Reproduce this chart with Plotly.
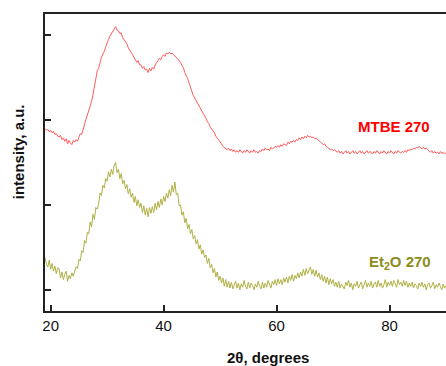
import plotly.graph_objects as go

# Sampling grid of the diffractogram (2-theta, degrees)
two_theta_start = 19.0
two_theta_step = 0.25

mtbe_270 = [
    2.90, 2.88, 2.89, 2.86, 2.88, 2.85, 2.87, 2.83, 2.84, 2.81, 2.80, 2.82, 2.77, 2.79, 2.75, 2.78,
    2.72, 2.76, 2.73, 2.71, 2.76, 2.74, 2.77, 2.75, 2.80, 2.84, 2.83, 2.90, 2.97, 3.01, 3.06, 3.11,
    3.18, 3.22, 3.30, 3.41, 3.52, 3.58, 3.61, 3.69, 3.74, 3.78, 3.81, 3.86, 3.92, 3.95, 3.99, 4.02,
    4.04, 4.07, 4.10, 4.06, 4.05, 4.02, 4.03, 3.97, 3.95, 3.92, 3.90, 3.85, 3.83, 3.80, 3.77, 3.74,
    3.72, 3.68, 3.70, 3.65, 3.65, 3.61, 3.63, 3.59, 3.60, 3.56, 3.61, 3.58, 3.62, 3.60, 3.65, 3.67,
    3.70, 3.73, 3.71, 3.75, 3.77, 3.75, 3.79, 3.78, 3.80, 3.78, 3.79, 3.77, 3.76, 3.74, 3.72, 3.70,
    3.68, 3.64, 3.62, 3.56, 3.53, 3.49, 3.44, 3.38, 3.34, 3.29, 3.26, 3.23, 3.21, 3.17, 3.14, 3.11,
    3.09, 3.05, 3.02, 2.98, 2.96, 2.92, 2.90, 2.87, 2.85, 2.81, 2.79, 2.76, 2.74, 2.72, 2.69, 2.68,
    2.67, 2.65, 2.67, 2.64, 2.66, 2.63, 2.65, 2.62, 2.64, 2.62, 2.65, 2.63, 2.61, 2.64, 2.62, 2.65,
    2.63, 2.61, 2.64, 2.62, 2.65, 2.62, 2.63, 2.61, 2.64, 2.63, 2.66, 2.64, 2.67, 2.65, 2.66, 2.64,
    2.68, 2.66, 2.67, 2.69, 2.68, 2.70, 2.68, 2.71, 2.69, 2.72, 2.71, 2.70, 2.74, 2.72, 2.75, 2.74,
    2.76, 2.74, 2.77, 2.76, 2.79, 2.77, 2.80, 2.78, 2.81, 2.79, 2.82, 2.80, 2.81, 2.79, 2.80, 2.78,
    2.79, 2.77, 2.76, 2.74, 2.73, 2.71, 2.72, 2.69, 2.68, 2.67, 2.65, 2.66, 2.64, 2.65, 2.63, 2.62,
    2.64, 2.61, 2.63, 2.60, 2.62, 2.64, 2.61, 2.63, 2.60, 2.62, 2.64, 2.61, 2.63, 2.60, 2.62, 2.64,
    2.61, 2.63, 2.60, 2.62, 2.64, 2.61, 2.63, 2.62, 2.60, 2.63, 2.61, 2.64, 2.62, 2.60, 2.63, 2.61,
    2.64, 2.62, 2.60, 2.63, 2.61, 2.64, 2.62, 2.60, 2.63, 2.61, 2.64, 2.62, 2.61, 2.63, 2.62, 2.64,
    2.62, 2.65, 2.64, 2.66, 2.65, 2.67, 2.66, 2.68, 2.67, 2.69, 2.68, 2.66, 2.68, 2.66, 2.67, 2.65,
    2.64, 2.62, 2.64, 2.61, 2.63, 2.61, 2.62, 2.60, 2.63, 2.61, 2.62, 2.60, 2.62,
]

et2o_270 = [
    1.38, 1.30, 1.27, 1.35, 1.24, 1.31, 1.22, 1.28, 1.19, 1.26, 1.25, 1.14, 1.21, 1.12, 1.18, 1.22,
    1.10, 1.17, 1.13, 1.20, 1.16, 1.23, 1.27, 1.25, 1.36, 1.34, 1.46, 1.44, 1.58, 1.55, 1.68, 1.66,
    1.80, 1.74, 1.89, 1.83, 1.97, 1.95, 2.01, 2.14, 2.11, 2.23, 2.20, 2.31, 2.28, 2.39, 2.33, 2.42,
    2.36, 2.47, 2.50, 2.38, 2.42, 2.31, 2.37, 2.25, 2.29, 2.19, 2.24, 2.13, 2.19, 2.09, 2.14, 2.03,
    2.10, 1.99, 2.06, 1.97, 2.02, 1.91, 1.99, 1.88, 1.96, 1.86, 1.97, 1.90, 1.98, 1.91, 2.02, 1.94,
    2.04, 1.97, 2.07, 2.00, 2.10, 2.04, 2.14, 2.08, 2.18, 2.11, 2.23, 2.15, 2.27, 2.12, 2.14, 1.99,
    2.00, 1.88, 1.92, 1.79, 1.84, 1.72, 1.77, 1.66, 1.71, 1.60, 1.64, 1.54, 1.59, 1.48, 1.53, 1.42,
    1.47, 1.38, 1.41, 1.31, 1.37, 1.26, 1.30, 1.20, 1.25, 1.15, 1.21, 1.11, 1.16, 1.08, 1.14, 1.04,
    1.12, 1.03, 1.10, 1.02, 1.09, 1.01, 1.05, 1.10, 1.02, 1.08, 1.00, 1.07, 1.03, 1.11, 1.04, 1.01,
    1.09, 1.02, 1.08, 1.05, 1.00, 1.07, 1.03, 1.10, 1.04, 1.01, 1.09, 1.02, 1.08, 1.03, 1.11, 1.05,
    1.02, 1.10, 1.06, 1.12, 1.05, 1.13, 1.07, 1.12, 1.06, 1.14, 1.09, 1.15, 1.08, 1.16, 1.11, 1.18,
    1.10, 1.17, 1.13, 1.20, 1.14, 1.21, 1.16, 1.24, 1.17, 1.25, 1.19, 1.23, 1.27, 1.18, 1.24, 1.16,
    1.23, 1.15, 1.20, 1.12, 1.18, 1.10, 1.16, 1.08, 1.15, 1.06, 1.13, 1.07, 1.12, 1.04, 1.09, 1.03,
    1.10, 1.02, 1.07, 1.04, 1.01, 1.09, 1.05, 1.11, 1.03, 1.08, 1.00, 1.07, 1.04, 1.10, 1.02, 1.06,
    1.09, 1.01, 1.05, 1.11, 1.03, 1.08, 1.04, 1.10, 1.02, 1.07, 1.09, 1.03, 1.11, 1.04, 1.08, 1.02,
    1.06, 1.12, 1.03, 1.09, 1.05, 1.10, 1.04, 1.11, 1.07, 1.03, 1.12, 1.06, 1.09, 1.04, 1.11, 1.05,
    1.10, 1.03, 1.08, 1.04, 1.09, 1.02, 1.07, 1.05, 1.01, 1.08, 1.04, 1.09, 1.03, 1.07, 1.00, 1.06,
    1.08, 1.02, 1.05, 1.09, 1.01, 1.06, 1.03, 1.08, 1.04, 1.00, 1.07, 1.02, 1.05,
]

two_theta = [two_theta_start + two_theta_step * i for i in range(len(mtbe_270))]

x_ticks = [20, 40, 60, 80]
y_ticks = [1, 2, 3, 4]
series_labels = ["<b>MTBE 270</b>", "<b>Et<sub>2</sub>O 270</b>"]

font_family = "Liberation Sans, Arial, sans-serif"

fig = go.Figure()
fig.add_trace(go.Scatter(x=two_theta, y=mtbe_270, mode="lines",
                         line=dict(color="#ff5c5c", width=1), showlegend=False))
fig.add_trace(go.Scatter(x=two_theta[:len(et2o_270)], y=et2o_270, mode="lines",
                         line=dict(color="#b0b046", width=1), showlegend=False))

fig.add_annotation(x=80.8, y=2.93, xref="x", yref="y", text=series_labels[0], showarrow=False,
                   font=dict(family=font_family, size=15, color="#ff0000"))
fig.add_annotation(x=81.9, y=1.32, xref="x", yref="y", text=series_labels[1], showarrow=False,
                   font=dict(family=font_family, size=15, color="#8c8c1a"))
fig.add_annotation(x=0.556, y=-0.155, xref="paper", yref="paper", text="<b>2θ, degrees</b>",
                   showarrow=False, xanchor="center", yanchor="middle",
                   font=dict(family=font_family, size=15, color="#111111"))
fig.add_annotation(x=-0.067, y=0.535, xref="paper", yref="paper", text="<b>intensity, a.u.</b>",
                   showarrow=False, textangle=-90, xanchor="center", yanchor="middle",
                   font=dict(family=font_family, size=15, color="#111111"))

fig.update_layout(
    width=446, height=366,
    margin=dict(l=45, r=0, t=14, b=55),
    paper_bgcolor="white", plot_bgcolor="white",
    showlegend=False,
)
fig.update_xaxes(range=[19, 90], tickvals=x_ticks, ticks="inside", ticklen=6, tickwidth=1.5,
                 tickcolor="#222222", showline=True, linecolor="#222222", linewidth=2, mirror=True,
                 showgrid=False, zeroline=False,
                 tickfont=dict(family=font_family, size=15, color="#111111"),
                 tickprefix="<b>", ticksuffix="</b>")
fig.update_yaxes(range=[0.75, 4.25], tickvals=y_ticks, ticks="inside", ticklen=6, tickwidth=1.5,
                 tickcolor="#222222", showline=True, linecolor="#222222", linewidth=2, mirror=False,
                 showgrid=False, zeroline=False, showticklabels=False)

fig.write_html("out.html")
